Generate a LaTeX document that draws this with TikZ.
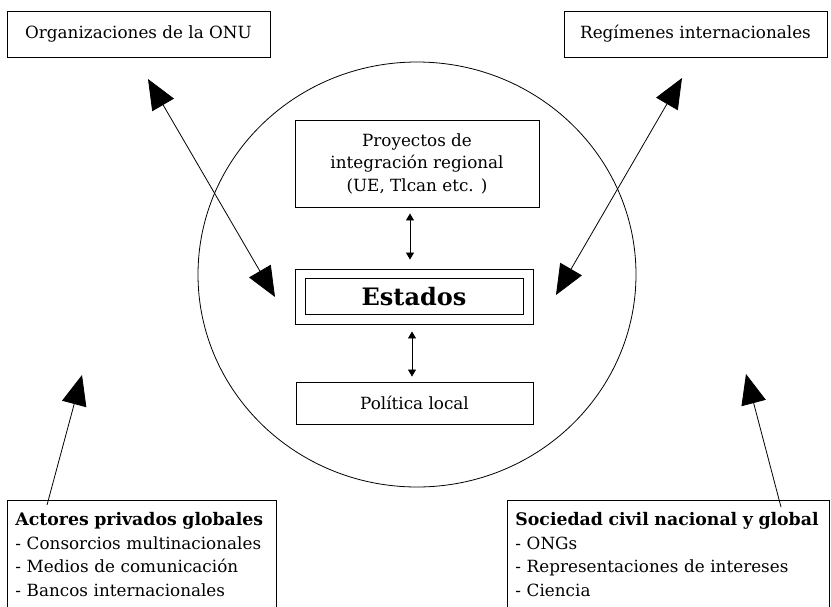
\documentclass[tikz,border=0pt]{standalone}
\usepackage{fontspec}
\setmainfont{DejaVu Serif}
\usetikzlibrary{arrows.meta}
\usetikzlibrary{positioning}

\tikzset{
  caja/.style={draw, line width=0.9pt, align=center, inner sep=0pt,
    font=\fontsize{16.8}{22.5}\selectfont},
  lista/.style={draw, line width=0.9pt, align=left, anchor=north west,
    inner xsep=8pt, inner ysep=12pt, font=\fontsize{16.8}{23.5}\selectfont},
  flechagrande/.style={{Triangle[length=30pt,width=25pt]}-{Triangle[length=30pt,width=25pt]}, line width=0.8pt},
  flechasola/.style={-{Triangle[length=30pt,width=25pt]}, line width=0.8pt},
  flechita/.style={{Triangle[length=7pt,width=8pt]}-{Triangle[length=7pt,width=8pt]}, line width=0.8pt}
}
\newcommand{\titulolista}[1]{{\fontsize{17.3}{23.5}\selectfont\bfseries #1}}

\begin{document}
\begin{tikzpicture}[x=1pt,y=-1pt]
  \useasboundingbox (0,0) rectangle (831,606);
  \clip (0,0) rectangle (831,606);

  % el circulo de los estados
  \draw[line width=0.8pt] (417,274.5) ellipse [x radius=219pt, y radius=212.5pt];

  \node[caja, minimum width=263pt, minimum height=46pt] (onu) at (138.5,34) {Organizaciones de la ONU};
  \node[caja, minimum width=263pt, minimum height=46pt] (regimenes) at (695.5,34) {Regímenes internacionales};

  \node[caja, minimum width=244pt, minimum height=87pt] (proyectos) at (417,163.5)
    {Proyectos de\\integración regional\\(UE, Tlcan etc. )};
  \node[caja, minimum width=238pt, minimum height=55pt] (estados) at (414,296.5) {};
  \node[caja, minimum width=218pt, minimum height=36pt, font=\fontsize{24}{26}\selectfont\bfseries] (estadosin) at (estados) {Estados};
  \node[caja, minimum width=237pt, minimum height=42pt] (politica) at (414.5,403) {Política local};

  \node[lista, text width=253pt] (actores) at (7,500)
    {\titulolista{Actores privados globales}\\- Consorcios multinacionales\\- Medios de comunicación\\- Bancos internacionales};
  \node[lista, text width=306pt] (sociedad) at (507,500)
    {\titulolista{Sociedad civil nacional y global}\\- ONGs\\- Representaciones de intereses\\- Ciencia};

  % puntas libres de las flechas
  \coordinate (onufin) at (148,79);
  \coordinate (estonu) at (275,297);
  \coordinate (regfin) at (682,78);
  \coordinate (estreg) at (556,295);
  \coordinate (actfin) at (82,375);
  \coordinate (socfin) at (746,374);

  \draw[flechagrande] (onufin) -- (estonu);
  \draw[flechagrande] (regfin) -- (estreg);
  \draw[flechasola] ([xshift=40pt,yshift=-5pt]actores.north west) -- (actfin);
  \draw[flechasola] ([xshift=274pt,yshift=-7pt]sociedad.north west) -- (socfin);

  \coordinate (arriba) at ([xshift=-4pt,yshift=9pt]estados.north);
  \draw[flechita] ([yshift=-6pt]proyectos.south -| arriba) -- (arriba);
  \draw[flechita] ([xshift=-2pt,yshift=-7pt]estados.south) -- ([xshift=-2.5pt,yshift=5pt]politica.north);
\end{tikzpicture}
\end{document}
